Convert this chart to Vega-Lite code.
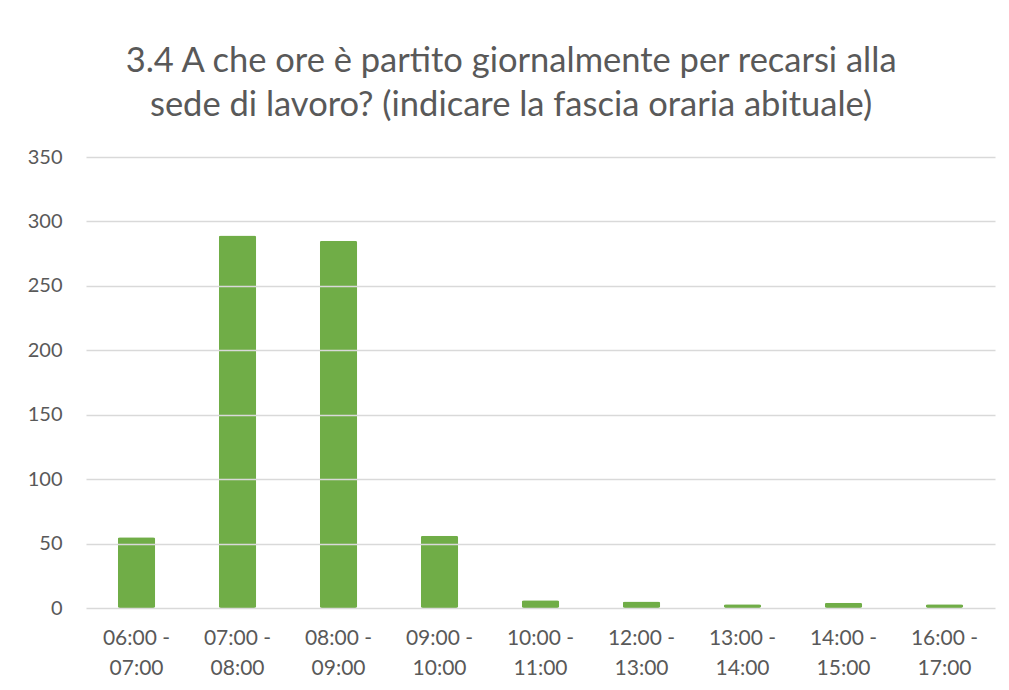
{
  "$schema": "https://vega.github.io/schema/vega-lite/v6.json",
  "autosize": {"type": "none"},
  "padding": {"left": 86, "top": 157, "right": 14, "bottom": 82},
  "width": 909,
  "height": 451,
  "background": "white",
  "title": {
    "text": ["3.4 A che ore è partito giornalmente per recarsi alla", "sede di lavoro? (indicare la fascia oraria abituale)"],
    "font": "Lato",
    "fontSize": 34.5,
    "fontWeight": "normal",
    "color": "#595959",
    "lineHeight": 44,
    "anchor": "middle",
    "frame": "bounds",
    "offset": 24
  },
  "data": {
    "values": [
      {"fascia": "06:00 - 07:00", "valore": 55},
      {"fascia": "07:00 - 08:00", "valore": 289},
      {"fascia": "08:00 - 09:00", "valore": 285},
      {"fascia": "09:00 - 10:00", "valore": 56},
      {"fascia": "10:00 - 11:00", "valore": 6},
      {"fascia": "12:00 - 13:00", "valore": 5},
      {"fascia": "13:00 - 14:00", "valore": 3},
      {"fascia": "14:00 - 15:00", "valore": 4},
      {"fascia": "16:00 - 17:00", "valore": 3}
    ]
  },
  "mark": {"type": "bar", "color": "#70AD47", "cornerRadius": 2},
  "encoding": {
    "x": {
      "field": "fascia",
      "type": "nominal",
      "sort": null,
      "scale": {"paddingInner": 0.63, "paddingOuter": 0.315},
      "axis": {
        "title": null,
        "labelAngle": 0,
        "labelExpr": "[substring(datum.label,0,7), substring(datum.label,8)]",
        "labelLineHeight": 30,
        "labelFont": "Lato",
        "labelFontSize": 21,
        "labelColor": "#595959",
        "labelPadding": 19,
        "ticks": false,
        "domain": false,
        "grid": false
      }
    },
    "y": {
      "field": "valore",
      "type": "quantitative",
      "scale": {"domain": [0, 350]},
      "axis": {
        "title": null,
        "values": [0, 50, 100, 150, 200, 250, 300, 350],
        "labelFont": "Lato",
        "labelFontSize": 20,
        "labelColor": "#595959",
        "labelPadding": 24,
        "ticks": false,
        "domain": false,
        "grid": true,
        "gridColor": "#D9D9D9",
        "gridWidth": 1.5,
        "zindex": 1
      }
    }
  },
  "config": {"view": {"stroke": null}}
}
